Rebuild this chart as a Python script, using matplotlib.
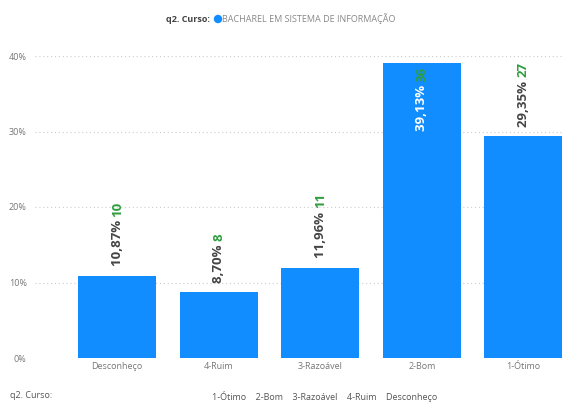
import matplotlib
matplotlib.use("Agg")
import matplotlib.pyplot as plt
from matplotlib.ticker import FuncFormatter
from matplotlib.transforms import offset_copy

categories = ["Desconheço", "4-Ruim", "3-Razoável", "2-Bom", "1-Ótimo"]
percents = [10.87, 8.70, 11.96, 39.13, 29.35]
counts = [10, 8, 11, 36, 27]
yticks = [0, 10, 20, 30, 40]
legend_title = "q2. Curso:"
legend_item = "BACHAREL EM SISTEMA DE INFORMAÇÃO"
bottom_items = ["1-Ótimo", "2-Bom", "3-Razoável", "4-Ruim", "Desconheço"]

plt.rcParams['font.family'] = ['Open Sans', 'DejaVu Sans']

BAR = "#118DFF"
GREEN = "#2E9E3E"
DARK = "#444444"
GREY = "#777777"

fig = plt.figure(figsize=(5.64, 4.03), dpi=100)
ax = fig.add_axes([35/564, (403-358)/403, 529/564, 317.1/403])

x = list(range(len(categories)))
ax.bar(x, percents, width=0.77, color=BAR, zorder=2)
ax.set_xlim(-0.81, 4.40)
ax.set_ylim(0, 42)
ax.set_yticks(yticks)
ax.yaxis.set_major_formatter(FuncFormatter(lambda v, p: f"{int(v)}%"))
ax.set_xticks(x)
ax.set_xticklabels(categories)
ax.tick_params(axis='both', length=0, labelsize=6.5, colors=GREY)
ax.tick_params(axis='y', pad=6)
ax.tick_params(axis='x', pad=3)
ax.grid(axis='y', color="#CCCCCC", linestyle=(0, (1, 2.5)), linewidth=0.8, zorder=0)
for s in ax.spines.values():
    s.set_visible(False)

FS = 9.5
fig.canvas.draw()
renderer = fig.canvas.get_renderer()
for xi, p, c in zip(x, percents, counts):
    inside = p > 35
    pct = f"{p:.2f}".replace(".", ",") + "%"
    if not inside:
        t1 = ax.text(xi, p, pct + " ", rotation=90, ha='center', va='bottom',
                     fontsize=FS, fontweight='bold', color=DARK,
                     transform=offset_copy(ax.transData, fig=fig, y=7, units='points'))
        fig.canvas.draw()
        h = t1.get_window_extent(renderer).height * 72 / fig.dpi
        ax.text(xi, p, str(c), rotation=90, ha='center', va='bottom',
                fontsize=FS, fontweight='bold', color=GREEN,
                transform=offset_copy(ax.transData, fig=fig, y=7 + h, units='points'))
    else:
        t2 = ax.text(xi, p, str(c), rotation=90, ha='center', va='top',
                     fontsize=FS, fontweight='bold', color=GREEN,
                     transform=offset_copy(ax.transData, fig=fig, y=-3, units='points'))
        fig.canvas.draw()
        h = t2.get_window_extent(renderer).height * 72 / fig.dpi
        ax.text(xi, p, pct + " ", rotation=90, ha='center', va='top',
                fontsize=FS, fontweight='bold', color="white",
                transform=offset_copy(ax.transData, fig=fig, y=-3 - h, units='points'))

# top legend
fig.text(210/564, 1 - 19/403, legend_title, ha='right', va='center', fontsize=6.5,
         fontweight='bold', color="#444444")
fig.patches.append(matplotlib.patches.Ellipse((218/564, 1 - 19/403), 7/564, 7/403,
                                              transform=fig.transFigure, color=BAR))
fig.text(222/564, 1 - 19/403, legend_item, ha='left', va='center', fontsize=6.5, color="#888888")

# bottom line
fig.text(10/564, 1 - 396/403, legend_title, ha='left', va='center', fontsize=6.5, color="#555555")
fig.text(212/564, 1 - 396/403, "    ".join(bottom_items), ha='left', va='center', fontsize=6.5, color="#555555")

fig.savefig("out.png", dpi=100)
